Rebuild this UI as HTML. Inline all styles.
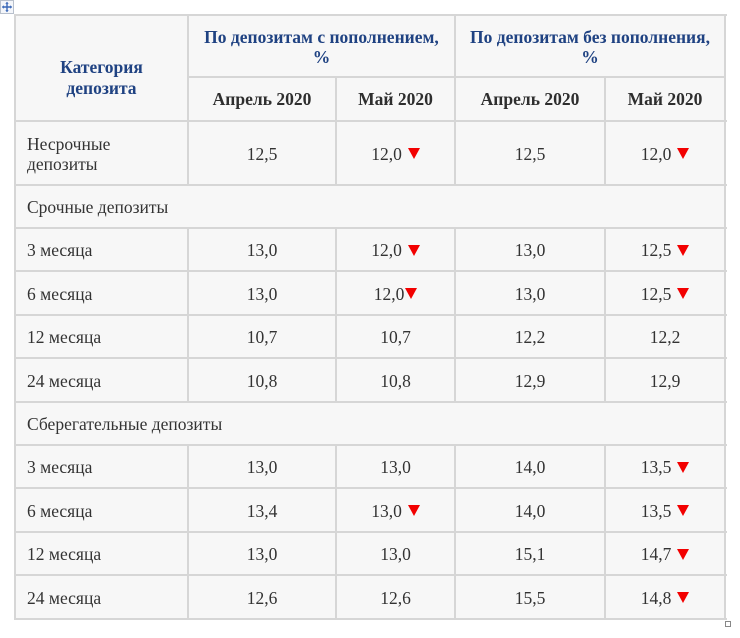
<!DOCTYPE html>
<html><head><meta charset="utf-8">
<style>
html,body{margin:0;padding:0;background:#fff;}
body{width:740px;height:638px;position:relative;overflow:hidden;font-family:"Liberation Serif","Noto Serif CJK SC",serif;font-size:17.5px;color:#333;}
.bg{position:absolute;left:15px;top:15px;width:710px;height:604px;background:#f7f7f7;}
.h{position:absolute;height:2px;background:#d6d6d6;}
.v{position:absolute;width:2px;background:#d6d6d6;}
.c{position:absolute;display:flex;align-items:center;justify-content:center;text-align:center;line-height:20px;}
.l{justify-content:flex-start;text-align:left;padding-left:12px;box-sizing:border-box;}
.nav{color:#1f4282;font-weight:bold;}
.sub{font-weight:bold;color:#2e2e2e;}
.t{display:inline-block;width:0;height:0;border-left:6px solid transparent;border-right:6px solid transparent;border-top:11px solid #f20000;margin-left:6px;vertical-align:0px;}
.t0{margin-left:1px;}
</style></head><body>
<svg style="position:absolute;left:0;top:0" width="14" height="14" viewBox="0 0 14 14">
<rect x="0.5" y="0.5" width="13" height="13" fill="#f4f6fa" stroke="#b8c0cc"/>
<path d="M7 2.5V11.5M2.5 7H11.5" stroke="#3a68b8" stroke-width="1.4"/>
<path d="M7 1.8L5.3 3.8H8.7Z M7 12.2L5.3 10.2H8.7Z M1.8 7L3.8 5.3V8.7Z M12.2 7L10.2 5.3V8.7Z" fill="#3a68b8"/>
</svg>
<div class="bg"></div>

<div class="h" style="left:14px;top:14px;width:713px"></div>
<div class="h" style="left:188px;top:76px;width:538px"></div>
<div class="h" style="left:14px;top:120px;width:713px"></div>
<div class="h" style="left:14px;top:184px;width:713px"></div>
<div class="h" style="left:14px;top:227px;width:713px"></div>
<div class="h" style="left:14px;top:270px;width:713px"></div>
<div class="h" style="left:14px;top:314px;width:713px"></div>
<div class="h" style="left:14px;top:357px;width:713px"></div>
<div class="h" style="left:14px;top:401px;width:713px"></div>
<div class="h" style="left:14px;top:444px;width:713px"></div>
<div class="h" style="left:14px;top:487px;width:713px"></div>
<div class="h" style="left:14px;top:531px;width:713px"></div>
<div class="h" style="left:14px;top:574px;width:713px"></div>
<div class="h" style="left:14px;top:618px;width:713px"></div>

<div class="v" style="left:14px;top:14px;height:606px"></div>
<div class="v" style="left:724px;top:14px;height:606px"></div>
<div class="v" style="left:187px;top:14px;height:171px"></div>
<div class="v" style="left:454px;top:14px;height:171px"></div>
<div class="v" style="left:335px;top:76px;height:109px"></div>
<div class="v" style="left:604px;top:76px;height:109px"></div>
<div class="v" style="left:187px;top:228px;height:174px"></div>
<div class="v" style="left:335px;top:228px;height:174px"></div>
<div class="v" style="left:454px;top:228px;height:174px"></div>
<div class="v" style="left:604px;top:228px;height:174px"></div>
<div class="v" style="left:187px;top:445px;height:175px"></div>
<div class="v" style="left:335px;top:445px;height:175px"></div>
<div class="v" style="left:454px;top:445px;height:175px"></div>
<div class="v" style="left:604px;top:445px;height:175px"></div>

<div class="c nav" style="left:15px;top:57px;width:173px;height:42px;line-height:21px">Категория<br>депозита</div>
<div class="c nav" style="left:188px;top:27px;width:267px;height:40px">По депозитам с пополнением,<br>%</div>
<div class="c nav" style="left:455px;top:27px;width:270px;height:40px">По депозитам без пополнения,<br>%</div>
<div class="c sub" style="left:188px;top:77px;width:148px;height:44px">Апрель 2020</div>
<div class="c sub" style="left:336px;top:77px;width:119px;height:44px">Май 2020</div>
<div class="c sub" style="left:455px;top:77px;width:150px;height:44px">Апрель 2020</div>
<div class="c sub" style="left:605px;top:77px;width:120px;height:44px">Май 2020</div>

<div class="c l" style="left:15px;top:122px;width:173px;height:63px">Несрочные<br>депозиты</div>
<div class="c" style="left:188px;top:122px;width:148px;height:63px">12,5</div>
<div class="c" style="left:336px;top:122px;width:119px;height:63px">12,0<span class="t"></span></div>
<div class="c" style="left:455px;top:122px;width:150px;height:63px">12,5</div>
<div class="c" style="left:605px;top:122px;width:120px;height:63px">12,0<span class="t"></span></div>

<div class="c l" style="left:15px;top:186px;width:710px;height:42px">Срочные депозиты</div>

<div class="c l" style="left:15px;top:229px;width:173px;height:42px">3 месяца</div>
<div class="c" style="left:188px;top:229px;width:148px;height:42px">13,0</div>
<div class="c" style="left:336px;top:229px;width:119px;height:42px">12,0<span class="t"></span></div>
<div class="c" style="left:455px;top:229px;width:150px;height:42px">13,0</div>
<div class="c" style="left:605px;top:229px;width:120px;height:42px">12,5<span class="t"></span></div>

<div class="c l" style="left:15px;top:272px;width:173px;height:43px">6 месяца</div>
<div class="c" style="left:188px;top:272px;width:148px;height:43px">13,0</div>
<div class="c" style="left:336px;top:272px;width:119px;height:43px">12,0<span class="t t0"></span></div>
<div class="c" style="left:455px;top:272px;width:150px;height:43px">13,0</div>
<div class="c" style="left:605px;top:272px;width:120px;height:43px">12,5<span class="t"></span></div>

<div class="c l" style="left:15px;top:316px;width:173px;height:42px">12 месяца</div>
<div class="c" style="left:188px;top:316px;width:148px;height:42px">10,7</div>
<div class="c" style="left:336px;top:316px;width:119px;height:42px">10,7</div>
<div class="c" style="left:455px;top:316px;width:150px;height:42px">12,2</div>
<div class="c" style="left:605px;top:316px;width:120px;height:42px">12,2</div>

<div class="c l" style="left:15px;top:359px;width:173px;height:43px">24 месяца</div>
<div class="c" style="left:188px;top:359px;width:148px;height:43px">10,8</div>
<div class="c" style="left:336px;top:359px;width:119px;height:43px">10,8</div>
<div class="c" style="left:455px;top:359px;width:150px;height:43px">12,9</div>
<div class="c" style="left:605px;top:359px;width:120px;height:43px">12,9</div>

<div class="c l" style="left:15px;top:403px;width:710px;height:42px">Сберегательные депозиты</div>

<div class="c l" style="left:15px;top:446px;width:173px;height:42px">3 месяца</div>
<div class="c" style="left:188px;top:446px;width:148px;height:42px">13,0</div>
<div class="c" style="left:336px;top:446px;width:119px;height:42px">13,0</div>
<div class="c" style="left:455px;top:446px;width:150px;height:42px">14,0</div>
<div class="c" style="left:605px;top:446px;width:120px;height:42px">13,5<span class="t"></span></div>

<div class="c l" style="left:15px;top:489px;width:173px;height:43px">6 месяца</div>
<div class="c" style="left:188px;top:489px;width:148px;height:43px">13,4</div>
<div class="c" style="left:336px;top:489px;width:119px;height:43px">13,0<span class="t"></span></div>
<div class="c" style="left:455px;top:489px;width:150px;height:43px">14,0</div>
<div class="c" style="left:605px;top:489px;width:120px;height:43px">13,5<span class="t"></span></div>

<div class="c l" style="left:15px;top:533px;width:173px;height:42px">12 месяца</div>
<div class="c" style="left:188px;top:533px;width:148px;height:42px">13,0</div>
<div class="c" style="left:336px;top:533px;width:119px;height:42px">13,0</div>
<div class="c" style="left:455px;top:533px;width:150px;height:42px">15,1</div>
<div class="c" style="left:605px;top:533px;width:120px;height:42px">14,7<span class="t"></span></div>

<div class="c l" style="left:15px;top:576px;width:173px;height:43px">24 месяца</div>
<div class="c" style="left:188px;top:576px;width:148px;height:43px">12,6</div>
<div class="c" style="left:336px;top:576px;width:119px;height:43px">12,6</div>
<div class="c" style="left:455px;top:576px;width:150px;height:43px">15,5</div>
<div class="c" style="left:605px;top:576px;width:120px;height:43px">14,8<span class="t"></span></div>

<div style="position:absolute;left:725px;top:621px;width:4px;height:4px;border:1px solid #888;background:#fff"></div>
</body></html>
